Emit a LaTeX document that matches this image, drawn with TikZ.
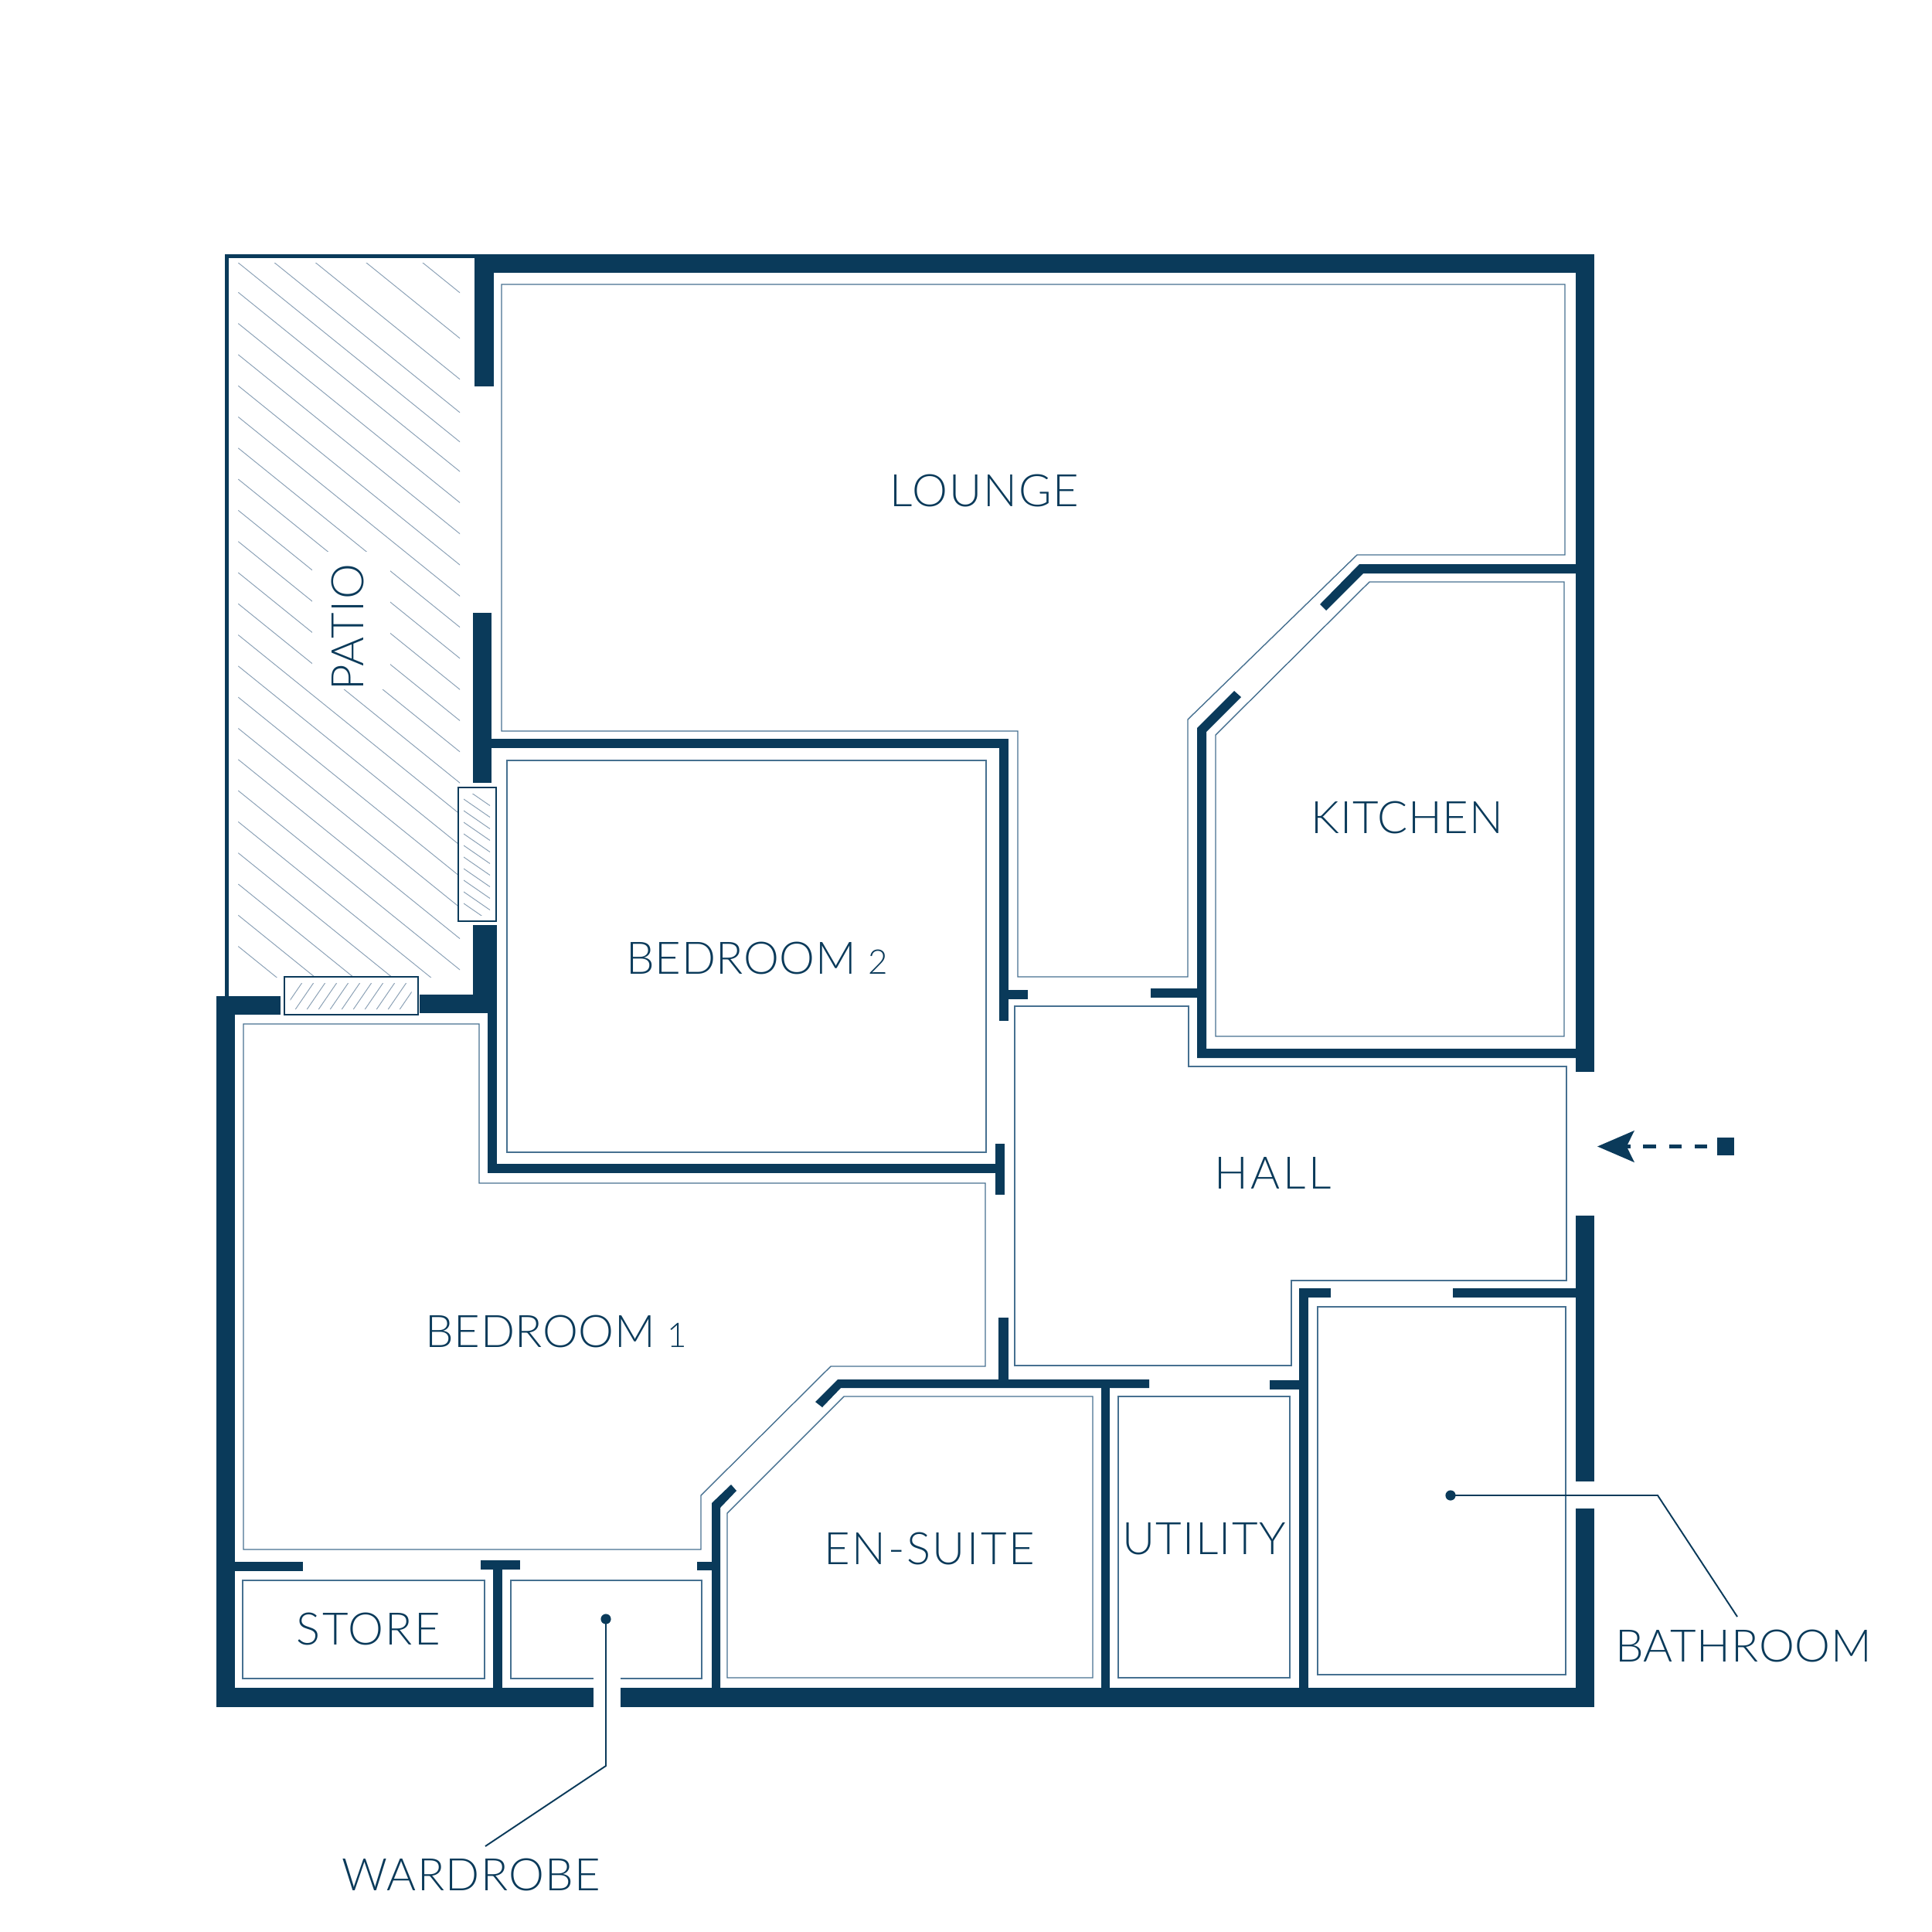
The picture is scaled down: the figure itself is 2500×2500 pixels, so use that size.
\documentclass[tikz,border=0pt]{standalone}
\usepackage{fontspec}
\setmainfont{Lato Light}
\usetikzlibrary{arrows.meta}
\definecolor{planblue}{HTML}{0A3A5A}
\definecolor{linegrey}{HTML}{467090}
\definecolor{hatchgrey}{HTML}{8AA0B5}
\newcommand{\spaced}[2]{{\addfontfeatures{LetterSpace=#1}#2}}
\newcommand{\lowdigit}[1]{{\fontsize{50}{50}\selectfont #1}}
\tikzset{
  wall/.style={fill=planblue},
  roomline/.style={draw=linegrey,line width=1.6pt},
  hatchline/.style={draw=hatchgrey,line width=1.1pt},
  leader/.style={draw=planblue,line width=2.2pt},
  roomlabel/.style={text=planblue,inner sep=0pt,font=\fontsize{66}{66}\selectfont},
  leaderdot/.style={circle,fill=planblue,inner sep=0pt,minimum size=15pt},
}
\begin{document}
\begin{tikzpicture}[x=0.04cm,y=0.04cm]
\useasboundingbox (0,0) rectangle (2500,-2500);
% patio hatching
\begin{scope}
\clip (308,-340) rectangle (595,-1264);
\foreach \ystart in {147,206,259,302,340,378.3,418.6,458.9,499.2,539.5,579.8,620.1,660.4,700.7,741,781.3,821.6,861.9,902.2,942.5,982.8,1023.1,1063.4,1103.7,1144,1184.3,1224.6}
  \draw [hatchline] (308.3,-\ystart) -- ++(287,-232);
\end{scope}
\fill [white] (404,-714) rectangle (505,-892);
% patio edge
\fill [wall] (291,-329) rectangle (614,-334);
\fill [wall] (291,-329) rectangle (296,-1289);
% outer walls
\fill [wall] (614,-329) rectangle (2063,-353);
\fill [wall] (614,-329) rectangle (639,-500);
\fill [wall] (2039,-329) rectangle (2063,-1387);
\fill [wall] (2039,-1573) rectangle (2063,-1917);
\fill [wall] (2039,-1952) rectangle (2063,-2209);
\fill [wall] (280,-2184) rectangle (768,-2209);
\fill [wall] (803,-2184) rectangle (2063,-2209);
\fill [wall] (280,-1289) rectangle (304,-2209);
\fill [wall] (280,-1289) rectangle (363,-1313);
\fill [wall] (612,-793) rectangle (636,-1013);
\fill [wall] (612,-1197) rectangle (643,-1287);
\fill [wall] (543,-1287) rectangle (643,-1311);
% bedroom 2 walls
\fill [wall] (631,-1311) rectangle (643,-1518);
\fill [wall] (631,-1506) rectangle (1288,-1518);
\fill [wall] (1288,-1480) rectangle (1300,-1546);
\fill [wall] (636,-956) rectangle (1305,-968);
\fill [wall] (1293,-956) rectangle (1305,-1321);
\fill [wall] (1293,-1281) rectangle (1330,-1293);
% kitchen walls
\fill [wall] (1549,-1369) -- (1549,-942) -- (1597,-894) -- (1606,-902) -- (1561,-947) -- (1561,-1357) -- (2039,-1357) -- (2039,-1369) -- cycle;
\fill [wall] (1489,-1279) rectangle (1549,-1291);
\fill [wall] (2039,-730) -- (2039,-742) -- (1764,-742) -- (1716,-790) -- (1708,-782) -- (1759,-730) -- cycle;
% store and wardrobe walls
\fill [wall] (304,-2021) rectangle (392,-2033);
\fill [wall] (622,-2019) rectangle (673,-2031);
\fill [wall] (638,-2031) rectangle (650,-2184);
\fill [wall] (902,-2021) rectangle (921,-2032);
% en-suite walls
\fill [wall] (921,-2184) -- (921,-1945) -- (946,-1921) -- (953,-1929) -- (932,-1951) -- (932,-2184) -- cycle;
\fill [wall] (1055,-1814) -- (1084,-1785) -- (1487,-1785) -- (1487,-1796) -- (1088,-1796) -- (1064,-1821) -- cycle;
\fill [wall] (1292,-1705) rectangle (1305,-1785);
\fill [wall] (1424.5,-1796) rectangle (1436,-2184);
% bathroom walls
\fill [wall] (1681,-1667) rectangle (1693,-2184);
\fill [wall] (1681,-1667) rectangle (1722,-1679);
\fill [wall] (1643,-1786) rectangle (1681,-1798);
\fill [wall] (1880,-1667) rectangle (2039,-1679);
% room outlines
\draw [roomline] (649,-368) -- (2025,-368) -- (2025,-718) -- (1756,-718) -- (1537,-931) -- (1537,-1264) -- (1317,-1264) -- (1317,-946) -- (649,-946) -- cycle;
\draw [roomline] (1772,-753) -- (2024,-753) -- (2024,-1341) -- (1573,-1341) -- (1573,-951) -- cycle;
\draw [roomline] (656,-984) rectangle (1276,-1491);
\draw [roomline] (1313,-1302) -- (1538,-1302) -- (1538,-1380) -- (2027,-1380) -- (2027,-1657) -- (1671,-1657) -- (1671,-1767) -- (1313,-1767) -- cycle;
\draw [roomline] (315,-1325) -- (620,-1325) -- (620,-1531) -- (1275,-1531) -- (1275,-1768) -- (1075,-1768) -- (907,-1935) -- (907,-2005) -- (315,-2005) -- cycle;
\draw [roomline] (1092,-1807) -- (1414,-1807) -- (1414,-2171) -- (941,-2171) -- (941,-1958) -- cycle;
\draw [roomline] (1447,-1807) rectangle (1669,-2171);
\draw [roomline] (1705,-1691) rectangle (2026,-2167);
\draw [roomline] (314,-2045) rectangle (627,-2172);
\draw [roomline] (768,-2172) -- (661,-2172) -- (661,-2045) -- (908,-2045) -- (908,-2172) -- (803,-2172);
% windows
\fill [white] (593,-1019) rectangle (642,-1192);
\fill [white] (368,-1264) rectangle (541,-1313);
\begin{scope}
\clip (600,-1027.5) rectangle (634,-1184);
\foreach \ystart in {1019,1034,...,1169}
  \draw [hatchline] (600,-\ystart) -- ++(34,-23.5);
\end{scope}
\begin{scope}
\clip (375.7,-1272) rectangle (532.7,-1306);
\foreach \xstart in {367.3,382.3,...,517.3}
  \draw [hatchline] (\xstart,-1306) -- ++(23.3,34);
\end{scope}
\draw [planblue,line width=2.4pt] (593,-1019) rectangle (642,-1192);
\draw [planblue,line width=2.4pt] (368,-1264) rectangle (541,-1313);
% labels
\node [roomlabel] (lounge) at (1274,-635) {\spaced{3.3}{LOUNGE}};
\node [roomlabel] (kitchen) at (1821,-1058) {\spaced{1.4}{KITCHEN}};
\node [roomlabel] (bedtwo) at (980,-1240) {\spaced{1}{BEDROOM} \lowdigit{2}};
\node [roomlabel] (hall) at (1647,-1518) {\spaced{6}{HALL}};
\node [roomlabel] (bedone) at (720,-1723) {\spaced{1}{BEDROOM} \lowdigit{1}};
\node [roomlabel] (ensuite) at (1203,-2004) {\spaced{4.5}{EN-SUITE}};
\node [roomlabel] (utility) at (1558,-1991) {\spaced{2.3}{UTILITY}};
\node [roomlabel] (store) at (477,-2108) {\spaced{4}{STORE}};
\node [roomlabel,rotate=90] (patio) at (450,-812) {\spaced{2}{PATIO}};
\node [roomlabel] (wardrobe) at (610,-2426) {\spaced{2.3}{WARDROBE}};
\node [roomlabel] (bathroom) at (2256,-2130) {\spaced{1.2}{BATHROOM}};
% leaders
\node [leaderdot] (warddot) at (784,-2095) {};
\coordinate (wardbend) at (784,-2285);
\coordinate (wardend) at (628,-2389);
\draw [leader] (warddot.center) -- (wardbend) -- (wardend);
\node [leaderdot] (bathdot) at (1877,-1935) {};
\coordinate (bathbend) at (2145,-1935);
\coordinate (bathend) at (2248,-2092);
\draw [leader] (bathdot.center) -- (bathbend) -- (bathend);
% way in
\node [fill=planblue,inner sep=0pt,minimum width=25pt,minimum height=26pt] (entrybox) at (2233,-1483.5) {};
\coordinate (entrytip) at (2067,-1483.5);
\draw [planblue,line width=6pt,dash pattern=on 19pt off 18.7pt,dash phase=23.5pt,-{Stealth[length=54pt,width=46pt,inset=11pt]}] (entrybox.west) -- (entrytip);
\end{tikzpicture}
\end{document}
